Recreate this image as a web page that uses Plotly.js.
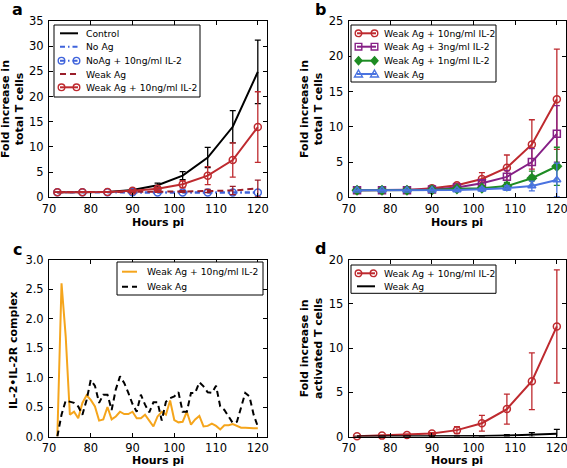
<!DOCTYPE html>
<html>
<head>
<meta charset="utf-8">
<script src="https://cdn.plot.ly/plotly-3.0.1.min.js"></script>
<style>html,body{margin:0;padding:0;background:#fff;}#chart{width:567px;height:468px;}</style>
</head>
<body>
<div id="chart"></div>
<script>
// ---------- data ----------
const hours = [72, 78, 84, 90, 96, 102, 108, 114, 120];

// panel a: fold increase in total T cells
const aControl      = [1.0, 1.0, 1.05, 1.45, 2.4, 4.3, 7.9, 14.0, 24.9];
const aControlErr   = [0, 0, 0.05, 0.2, 0.4, 0.8, 2.0, 3.2, 6.3];
const aNoAg         = [1.0, 1.0, 1.0, 0.98, 0.97, 0.95, 0.95, 0.94, 0.93];
const aNoAgIL2      = [1.0, 1.0, 1.0, 0.98, 0.97, 0.96, 0.95, 0.95, 0.94];
const aWeakAg       = [1.0, 1.0, 1.0, 1.05, 1.1, 1.15, 1.25, 1.35, 1.75];
const aWeakAgErr    = [0, 0, 0, 0.05, 0.1, 0.15, 0.3, 0.8, 1.65];
const aWeakIL2      = [1.0, 1.0, 1.05, 1.3, 1.7, 2.6, 4.3, 7.4, 13.95];
const aWeakIL2Err   = [0, 0, 0.05, 0.15, 0.3, 0.7, 1.8, 3.4, 7.0];

// panel b: IL-2 dose
const bIL2_10       = [1.0, 1.0, 1.05, 1.3, 1.7, 2.6, 4.2, 7.5, 13.9];
const bIL2_10Err    = [0, 0, 0.05, 0.15, 0.3, 0.9, 1.8, 3.5, 7.1];
const bIL2_3        = [1.0, 1.0, 1.0, 1.1, 1.4, 2.0, 2.9, 5.0, 9.0];
const bIL2_3Err     = [0, 0, 0, 0.05, 0.15, 0.4, 0.9, 1.9, 4.0];
const bIL2_1        = [1.0, 1.0, 1.0, 1.05, 1.2, 1.3, 1.6, 2.7, 4.4];
const bIL2_1Err     = [0, 0, 0, 0.03, 0.1, 0.2, 0.5, 1.0, 2.7];
const bWeakAg       = [1.0, 1.0, 1.0, 1.0, 1.05, 1.15, 1.3, 1.6, 2.45];
const bWeakAgErr    = [0, 0, 0, 0, 0.1, 0.2, 0.3, 0.7, 2.4];

// panel c: IL-2•IL-2R complex, hourly
const hoursC = [72,73,74,75,76,77,78,79,80,81,82,83,84,85,86,87,88,89,90,91,92,93,94,95,96,
                97,98,99,100,101,102,103,104,105,106,107,108,109,110,111,112,113,114,115,116,117,118,119,120];
const cWeakIL2 = [0.0,2.6,1.7,0.37,0.42,0.31,0.57,0.70,0.62,0.51,0.27,0.29,0.50,0.29,0.34,0.42,0.38,0.38,0.42,0.31,0.31,0.37,0.27,0.17,0.34,
                  0.42,0.37,0.61,0.28,0.24,0.25,0.42,0.20,0.29,0.35,0.17,0.18,0.22,0.18,0.12,0.19,0.19,0.21,0.18,0.15,0.15,0.14,0.14,0.14];
const cWeakAg  = [0.0,0.37,0.61,0.59,0.57,0.51,0.37,0.62,0.96,0.86,0.57,0.71,0.71,0.45,0.80,1.02,0.91,0.74,0.55,0.42,0.71,0.54,0.41,0.58,0.58,
                  0.27,0.59,0.65,0.68,0.75,0.42,0.42,0.74,0.74,0.92,0.85,0.75,0.74,0.86,0.51,0.45,0.34,0.23,0.25,0.48,0.74,0.68,0.37,0.17];

// panel d: fold increase in activated T cells
const dWeakIL2    = [0.02, 0.1, 0.18, 0.33, 0.72, 1.5, 3.1, 6.25, 12.45];
const dWeakIL2Err = [0, 0.02, 0.05, 0.1, 0.4, 0.9, 1.7, 3.2, 6.4];
const dWeakAg     = [0, 0, 0, 0, 0.02, 0.05, 0.1, 0.18, 0.3];
const dWeakAgErr  = [0, 0, 0, 0, 0, 0.05, 0.1, 0.25, 0.5];

const xTicks = [70, 80, 90, 100, 110, 120];

// ---------- styles ----------
const FONT = 'DejaVu Sans, Arial, sans-serif';
const RED = '#be2a2f', DARKRED = '#9a1e2a', BLUE = '#3f63db', PURPLE = '#862086',
      GREEN = '#1e8c24', BLUE2 = '#4a73e0', ORANGE = '#f5a51c', BLACK = '#000000';
const DASH = '6px,4px', DASHDOT = '5px,3px,1.5px,3px';

const W = 567, H = 468;
const px = x => x / W;
const py = y => 1 - y / H;

function tr(x, y, ax, color, dash, symbol, err) {
  const t = {
    x: x, y: y, xaxis: 'x' + ax, yaxis: 'y' + ax, type: 'scatter',
    mode: symbol ? 'lines+markers' : 'lines', showlegend: false,
    line: {color: color, width: 2, dash: dash}, cliponaxis: false
  };
  if (symbol) t.marker = {symbol: symbol, size: 7, color: color, line: {color: color, width: 1.5}};
  if (err) t.error_y = {type: 'data', array: err, visible: true, color: color, thickness: 1.3, width: 3};
  return t;
}

const data = [
  tr(hours, aControl, '', BLACK, 'solid', null, aControlErr),
  tr(hours, aNoAg, '', BLUE, DASHDOT, null, null),
  tr(hours, aNoAgIL2, '', BLUE, DASHDOT, 'circle-open', null),
  tr(hours, aWeakAg, '', DARKRED, DASH, null, aWeakAgErr),
  tr(hours, aWeakIL2, '', RED, 'solid', 'circle-open', aWeakIL2Err),

  tr(hours, bIL2_10, '2', RED, 'solid', 'circle-open', bIL2_10Err),
  tr(hours, bIL2_3, '2', PURPLE, 'solid', 'square-open', bIL2_3Err),
  tr(hours, bIL2_1, '2', GREEN, 'solid', 'diamond', bIL2_1Err),
  tr(hours, bWeakAg, '2', BLUE2, 'solid', 'triangle-up-open', bWeakAgErr),

  tr(hoursC, cWeakIL2, '3', ORANGE, 'solid', null, null),
  tr(hoursC, cWeakAg, '3', BLACK, DASH, null, null),

  tr(hours, dWeakIL2, '4', RED, 'solid', 'circle-open', dWeakIL2Err),
  tr(hours, dWeakAg, '4', BLACK, 'solid', null, dWeakAgErr)
];

// ---------- axes ----------
function xax(domain, anchor) {
  return {domain: domain, anchor: anchor, range: [70, 122.2], tickvals: xTicks, ticklabeloverflow: 'allow',
    ticklabelstandoff: 1,
    showgrid: false, zeroline: false, showline: true, mirror: 'ticks', linecolor: '#000', linewidth: 1,
    ticks: 'inside', ticklen: 4, tickcolor: '#000', tickfont: {family: FONT, size: 11.5, color: '#000'}};
}
function yax(domain, anchor, range, dtick, fmt) {
  const a = {domain: domain, anchor: anchor, range: range, dtick: dtick, tick0: 0, ticklabeloverflow: 'allow',
    ticklabelstandoff: 2,
    showgrid: false, zeroline: false, showline: true, mirror: 'ticks', linecolor: '#000', linewidth: 1,
    ticks: 'inside', ticklen: 4, tickcolor: '#000', tickfont: {family: FONT, size: 11.5, color: '#000'}};
  if (fmt) a.tickformat = fmt;
  return a;
}
const colL = [px(49), px(267)], colR = [px(348.7), px(566)];
const rowT = [py(197.3), py(21)], rowB = [py(436.5), py(259.7)];

const layout = {
  width: W, height: H, margin: {l: 0, r: 0, t: 0, b: 0},
  paper_bgcolor: '#fff', plot_bgcolor: '#fff', showlegend: false,
  font: {family: FONT, color: '#000'},
  xaxis: xax(colL, 'y'), yaxis: yax(rowT, 'x', [0, 35], 5),
  xaxis2: xax(colR, 'y2'), yaxis2: yax(rowT, 'x2', [0, 25], 5),
  xaxis3: xax(colL, 'y3'), yaxis3: yax(rowB, 'x3', [0, 3], 0.5, '.1f'),
  xaxis4: xax(colR, 'y4'), yaxis4: yax(rowB, 'x4', [0, 20], 5),
  shapes: [], annotations: []
};

// ---------- titles & panel letters ----------
const bold = s => '<b>' + s + '</b>';
function ann(x, y, text, opts) {
  layout.annotations.push(Object.assign({xref: 'paper', yref: 'paper', x: px(x), y: py(y), text: text,
    showarrow: false, xanchor: 'center', yanchor: 'middle', font: {family: FONT, size: 11, color: '#000'}}, opts || {}));
}
ann(158, 222, bold('Hours pi'));
ann(457, 222, bold('Hours pi'));
ann(158, 460, bold('Hours pi'));
ann(457, 460, bold('Hours pi'));
ann(12.5, 109.5, bold('Fold increase in<br>total T cells'), {textangle: -90});
ann(311, 109, bold('Fold increase in<br>total T cells'), {textangle: -90});
ann(13, 350, bold('IL-2•IL-2R complex'), {textangle: -90});
ann(311, 348, bold('Fold increase in<br>activated T cells'), {textangle: -90});
const letterFont = {family: FONT, size: 16, color: '#000'};
ann(17, 9, bold('a'), {font: letterFont});
ann(320, 9, bold('b'), {font: letterFont});
ann(17, 249, bold('c'), {font: letterFont});
ann(320, 248, bold('d'), {font: letterFont});

// ---------- hand-drawn legends (matplotlib style, two markers per sample) ----------
const legA = [
  {name: 'Control', color: BLACK, dash: 'solid'},
  {name: 'No Ag', color: BLUE, dash: DASHDOT},
  {name: 'NoAg + 10ng/ml IL-2', color: BLUE, dash: DASHDOT, sym: 'circle'},
  {name: 'Weak Ag', color: DARKRED, dash: DASH},
  {name: 'Weak Ag + 10ng/ml IL-2', color: RED, dash: 'solid', sym: 'circle'}
];
const legB = [
  {name: 'Weak Ag + 10ng/ml IL-2', color: RED, dash: 'solid', sym: 'circle'},
  {name: 'Weak Ag + 3ng/ml IL-2', color: PURPLE, dash: 'solid', sym: 'square'},
  {name: 'Weak Ag + 1ng/ml IL-2', color: GREEN, dash: 'solid', sym: 'diamond'},
  {name: 'Weak Ag', color: BLUE2, dash: 'solid', sym: 'triangle'}
];
const legC = [
  {name: 'Weak Ag + 10ng/ml IL-2', color: ORANGE, dash: 'solid'},
  {name: 'Weak Ag', color: BLACK, dash: DASH}
];
const legD = [
  {name: 'Weak Ag + 10ng/ml IL-2', color: RED, dash: 'solid', sym: 'circle'},
  {name: 'Weak Ag', color: BLACK, dash: 'solid'}
];

function glyph(sym, cx, cy, color) {
  const r = 3.3;
  const base = {xref: 'paper', yref: 'paper', line: {color: color, width: 1.4}, fillcolor: 'rgba(0,0,0,0)'};
  if (sym === 'circle') {
    layout.shapes.push(Object.assign({type: 'circle', x0: px(cx - r), x1: px(cx + r), y0: py(cy + r), y1: py(cy - r)}, base));
  } else if (sym === 'square') {
    layout.shapes.push(Object.assign({type: 'rect', x0: px(cx - r), x1: px(cx + r), y0: py(cy + r), y1: py(cy - r)}, base));
  } else if (sym === 'diamond') {
    const p = `M${px(cx)},${py(cy - 4)} L${px(cx + 3.5)},${py(cy)} L${px(cx)},${py(cy + 4)} L${px(cx - 3.5)},${py(cy)} Z`;
    layout.shapes.push(Object.assign({type: 'path', path: p}, base, {fillcolor: color}));
  } else if (sym === 'triangle') {
    const p = `M${px(cx)},${py(cy - 4)} L${px(cx + 4)},${py(cy + 3)} L${px(cx - 4)},${py(cy + 3)} Z`;
    layout.shapes.push(Object.assign({type: 'path', path: p}, base));
  }
}
function legend(box, rows, s0, s1, tx, entries) {
  layout.shapes.push({type: 'rect', xref: 'paper', yref: 'paper', x0: px(box[0]), x1: px(box[1]),
    y0: py(box[3]), y1: py(box[2]), line: {color: '#000', width: 1}, fillcolor: '#fff'});
  entries.forEach((e, i) => {
    const y = rows[i];
    layout.shapes.push({type: 'line', xref: 'paper', yref: 'paper', x0: px(s0), x1: px(s1), y0: py(y), y1: py(y),
      line: {color: e.color, width: 2, dash: e.dash}});
    if (e.sym) { glyph(e.sym, s0 + 1.5, y, e.color); glyph(e.sym, s1 - 1.5, y, e.color); }
    layout.annotations.push({xref: 'paper', yref: 'paper', x: px(tx), y: py(y), text: e.name, showarrow: false,
      xanchor: 'left', yanchor: 'middle', font: {family: FONT, size: 9.2, color: '#000'}});
  });
}
legend([54, 200, 25, 97], [33.3, 46.7, 60.7, 74, 87.3], 60, 78, 84, legA);
legend([351, 496, 25, 82], [33.3, 46.7, 60.7, 74], 357, 376, 382, legB);
legend([117, 263, 262, 295], [271.7, 286.7], 122, 137, 145, legC);
legend([351, 496, 265, 293.3], [273.3, 286.3], 357, 375, 382, legD);

Plotly.newPlot('chart', data, layout, {staticPlot: true, displayModeBar: false});
</script>
</body>
</html>
